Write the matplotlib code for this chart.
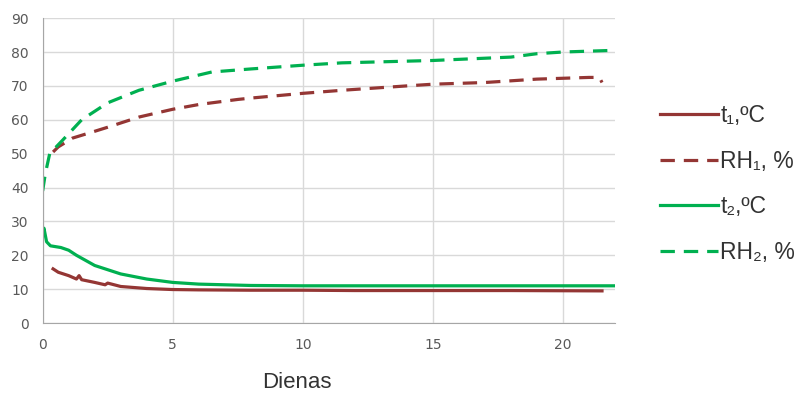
import numpy as np
import matplotlib
matplotlib.use("Agg")
import matplotlib.pyplot as plt

# dienas (days) and readings
t1_x = [0.4, 0.6, 1.0, 1.3, 1.4, 1.5, 2.0, 2.4, 2.5, 3.0, 4.0, 5.0, 6.0, 8.0, 10.0, 12.0, 15.0, 18.0, 21.5]
t1_y = [16.0, 15.0, 14.0, 13.0, 14.0, 12.8, 12.0, 11.3, 11.8, 10.8, 10.2, 9.9, 9.8, 9.7, 9.7, 9.6, 9.6, 9.6, 9.5]

rh1_x = [0.4, 0.6, 1.15, 2.0, 2.5, 3.7, 5.0, 6.0, 7.5, 8.0, 10.0, 11.5, 14.0, 15.0, 17.0, 19.0, 21.0, 21.4, 21.5]
rh1_y = [50.5, 52.0, 54.6, 56.6, 57.8, 60.8, 63.1, 64.5, 66.0, 66.4, 67.8, 68.7, 70.0, 70.5, 71.0, 72.0, 72.5, 72.5, 71.0]

t2_x = [0.0, 0.05, 0.15, 0.3, 0.7, 1.0, 1.3, 2.0, 3.0, 4.0, 5.0, 6.0, 8.0, 10.0, 15.0, 20.0, 22.0]
t2_y = [27.0, 28.0, 24.0, 22.8, 22.3, 21.5, 20.0, 17.0, 14.5, 13.0, 12.0, 11.5, 11.1, 11.0, 11.0, 11.0, 11.0]

rh2_x = [0.0, 0.1, 0.27, 0.77, 1.5, 2.5, 3.7, 5.0, 6.5, 8.0, 10.0, 11.5, 15.0, 18.0, 19.0, 20.0, 22.0]
rh2_y = [39.0, 44.0, 50.0, 54.0, 60.0, 65.0, 68.7, 71.4, 74.1, 75.0, 76.1, 76.8, 77.5, 78.5, 79.5, 80.0, 80.5]

red = "#943634"
green = "#00B050"

fig = plt.figure(figsize=(8.05, 3.94), dpi=100)
ax = fig.add_axes([0.053, 0.180, 0.711, 0.774])

lw = 2.3
ax.plot(t1_x, t1_y, color=red, lw=lw, label="t₁,ºC")
ax.plot(rh1_x, rh1_y, color=red, lw=lw, dashes=(4.5, 2.8), label="RH₁, %")
ax.plot(t2_x, t2_y, color=green, lw=lw, label="t₂,ºC")
ax.plot(rh2_x, rh2_y, color=green, lw=lw, dashes=(4.5, 2.8), label="RH₂, %")

ax.set_xlim(0, 22)
ax.set_ylim(0, 90)
ax.set_xticks([0, 5, 10, 15, 20])
ax.set_yticks(np.arange(0, 91, 10))
ax.grid(True, color="#d9d9d9", lw=1)
ax.set_axisbelow(True)
for s in ["top", "right"]:
    ax.spines[s].set_visible(False)
for s in ["left", "bottom"]:
    ax.spines[s].set_color("#a6a6a6")
ax.tick_params(length=0, labelsize=10, colors="#595959")
ax.tick_params(axis="y", pad=10)
ax.tick_params(axis="x", pad=11)
ax.set_xlabel("Dienas", fontsize=16, color="#333333", family="Liberation Sans")
ax.xaxis.set_label_coords(0.444, -0.196)
ax.xaxis.label.set_va("center")

leg = ax.legend(loc="center left", bbox_to_anchor=(1.079, 0.456), frameon=False,
                prop={"family": "Liberation Sans", "size": 16.5},
                handlelength=2.5, handletextpad=0.12, labelspacing=1.0,
                borderpad=0, borderaxespad=0)
for txt in leg.get_texts():
    txt.set_color("#333333")

fig.savefig("out.png", dpi=100)
